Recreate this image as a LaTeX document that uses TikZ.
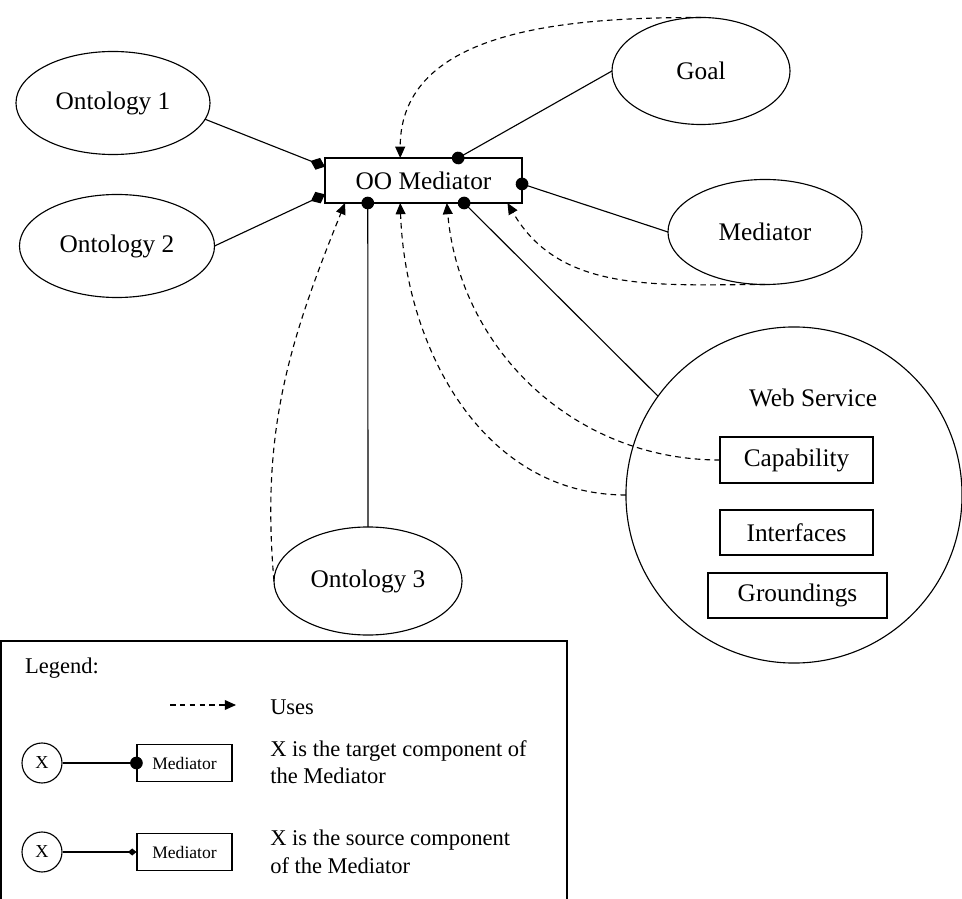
\documentclass[tikz,border=0pt]{standalone}
\usepackage{fontspec}
\setmainfont{Liberation Serif}
\usetikzlibrary{shapes.geometric,arrows.meta}

\begin{document}
\begin{tikzpicture}[x=0.025cm, y=-0.025cm, line width=0.8pt]
\tikzstyle{comp}   = [ellipse, draw, inner sep=0pt, outer sep=0pt, font=\fontsize{18}{21}\selectfont]
\tikzstyle{mbox}   = [rectangle, draw, inner sep=0pt, outer sep=0pt, text centered, font=\fontsize{18}{21}\selectfont]
\tikzstyle{lbox}   = [rectangle, draw, inner sep=0pt, minimum width=2.375cm, minimum height=0.925cm, font=\fontsize{12.5}{15}\selectfont]
\tikzstyle{xcirc}  = [circle, draw, inner sep=0pt, minimum size=1cm, font=\fontsize{13}{15}\selectfont]
\tikzstyle{ltext}  = [anchor=west, align=left, font=\fontsize{16}{19.5}\selectfont]
\tikzstyle{usearr} = [dash pattern=on 4pt off 3pt, -{Triangle[length=8pt,width=7pt]}]
\tikzstyle{tgt}    = [-{Circle[length=9pt]}, shorten >=-4.5pt]
\tikzstyle{src}    = [-{Diamond[length=11pt,width=9pt]}]
\useasboundingbox (0,0) rectangle (962,899);
% components
\node[mbox, minimum width=4.925cm, minimum height=1.125cm] at (423.5, 180.5) (med) {OO Mediator};
\node[comp, minimum width=4.85cm, minimum height=2.575cm] at (113, 103) (ont1) {Ontology 1};
\node[comp, minimum width=4.875cm, minimum height=2.575cm] at (117, 246) (ont2) {Ontology 2};
\node[comp, minimum width=4.45cm, minimum height=2.675cm] at (701, 71) (goal) {Goal};
\node[comp, minimum width=4.85cm, minimum height=2.625cm] at (765, 232) (mdt) {Mediator};
\node[comp, minimum width=4.7cm, minimum height=2.7cm] at (368, 581) (ont3) {Ontology 3};
\node[comp, circle, minimum size=8.4cm] at (794, 495) (ws) {};
\node[font=\fontsize{18}{21}\selectfont] at (813, 398) (wstitle) {Web Service};
\node[mbox, minimum width=3.825cm, minimum height=1.15cm] at (796.5, 460) (cap) {Capability};
\node[mbox, minimum width=3.825cm, minimum height=1.125cm] at (796.5, 532.5) (intf) {Interfaces};
\node[mbox, minimum width=4.475cm, minimum height=1.125cm] at (797.5, 595.5) (grnd) {Groundings};
% source / target links
\draw[src] (ont1.-10) -- (med.172);
\draw[src] (ont2.east) -- (med.188);
\draw[tgt] (goal.west) -- (med.33);
\draw[tgt] (mdt.west) -- (med.-2);
\draw[tgt] (ont3.north) -- (med.202);
\draw[tgt] (ws.144) -- (med.-29);
% uses
\draw[usearr] (goal.north) to[out=180, in=90] (med.136);
\draw[usearr] (mdt.south) to[out=180, in=-60] (med.-15);
\draw[usearr] (cap.west) to[out=180, in=-85] (med.-44);
\draw[usearr] (ws.west) to[out=180, in=-88] (med.224);
\draw[usearr] (ont3.west) to[out=95, in=-112] (med.196);
% legend
\draw (1, 899) |- (567, 641) -- (567, 899);
\node[ltext] at (20, 668) (lgd) {Legend:};
\coordinate (u0) at (170, 705);
\coordinate (u1) at (236, 705);
\draw[usearr] (u0) -- (u1);
\node[ltext] at (265, 707) (usestxt) {Uses};
\node[xcirc] at (42, 763) (x1) {X};
\node[lbox] at (184.5, 763) (lm1) {Mediator};
\draw[tgt] (x1) -- (lm1);
\node[ltext] at (265, 762) (t1) {X is the target component of\\the Mediator};
\node[xcirc] at (42, 852) (x2) {X};
\node[lbox] at (184.5, 852) (lm2) {Mediator};
\draw[src, -{Diamond[length=6pt,width=5pt]}] (x2) -- (lm2);
\node[ltext] at (265, 852) (t2) {X is the source component\\of the Mediator};
\end{tikzpicture}
\end{document}
